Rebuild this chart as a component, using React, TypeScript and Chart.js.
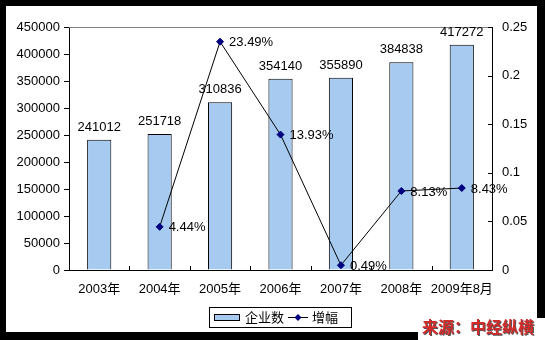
import React, { useEffect, useRef } from "react";
import { Chart, registerables } from "chart.js";

Chart.register(...registerables);

const categories = ["2003年", "2004年", "2005年", "2006年", "2007年", "2008年", "2009年8月"];
const enterpriseCounts = [241012, 251718, 310836, 354140, 355890, 384838, 417272];
const growthRates: (number | null)[] = [null, 0.0444, 0.2349, 0.1393, 0.0049, 0.0813, 0.0843];
const growthLabels: (string | null)[] = [null, "4.44%", "23.49%", "13.93%", "0.49%", "8.13%", "8.43%"];
const legendLabels = ["企业数", "增幅"];
const sourceText = "来源：中经纵横";

const FONT = '"Liberation Sans", Arial, "Noto Sans CJK SC", sans-serif';
const BAR_FILL = "#a6caf0";
const MARKER = "#000080";

const framePlugin = {
  id: "frame",
  beforeDraw(chart: any) {
    const { ctx, width, height } = chart;
    ctx.save();
    ctx.fillStyle = "#000";
    ctx.fillRect(0, 0, width, height);
    ctx.fillStyle = "#fff";
    ctx.fillRect(6, 6, 531, 326);
    ctx.fillRect(418, 318, width - 418, height - 318);
    ctx.restore();
  },
};

const decorPlugin = {
  id: "decor",
  afterDatasetsDraw(chart: any) {
    const { ctx, chartArea } = chart;
    const xs = chart.scales.x;
    const y1 = chart.scales.y1;
    ctx.save();
    // top border (gray)
    ctx.strokeStyle = "#808080";
    ctx.lineWidth = 1;
    ctx.beginPath();
    ctx.moveTo(chartArea.left, Math.round(chartArea.top) + 0.5);
    ctx.lineTo(chartArea.right, Math.round(chartArea.top) + 0.5);
    ctx.stroke();
    // inward ticks on right axis
    ctx.strokeStyle = "#000";
    ctx.beginPath();
    y1.ticks.forEach((t: any) => {
      const y = Math.round(y1.getPixelForValue(t.value)) + 0.5;
      ctx.moveTo(chartArea.right - 4, y);
      ctx.lineTo(chartArea.right, y);
    });
    // inward ticks on x axis between categories
    for (let i = 0; i < categories.length - 1; i++) {
      const x = Math.round((xs.getPixelForTick(i) + xs.getPixelForTick(i + 1)) / 2) + 0.5;
      ctx.moveTo(x, chartArea.bottom - 4);
      ctx.lineTo(x, chartArea.bottom);
    }
    ctx.stroke();

    // data labels
    ctx.fillStyle = "#000";
    ctx.font = "13px " + FONT;
    const barMeta = chart.getDatasetMeta(1);
    barMeta.data.forEach((el: any, i: number) => {
      ctx.textAlign = "center";
      ctx.textBaseline = "alphabetic";
      ctx.fillText(String(enterpriseCounts[i]), el.x, el.y - 9);
    });
    const lineMeta = chart.getDatasetMeta(0);
    lineMeta.data.forEach((el: any, i: number) => {
      const lbl = growthLabels[i];
      if (!lbl || el.skip) return;
      ctx.textAlign = "left";
      ctx.textBaseline = "middle";
      ctx.fillText(lbl, el.x + 9, el.y + 1);
    });
    ctx.restore();
  },
  afterDraw(chart: any) {
    const { ctx } = chart;
    ctx.save();
    // legend
    ctx.strokeStyle = "#000";
    ctx.lineWidth = 1;
    ctx.strokeRect(209.5, 307.5, 142, 20);
    ctx.fillStyle = BAR_FILL;
    ctx.fillRect(214.5, 314.5, 25, 6);
    ctx.strokeRect(214.5, 314.5, 25, 6);
    ctx.fillStyle = "#000";
    ctx.font = "13px " + FONT;
    ctx.textAlign = "left";
    ctx.textBaseline = "middle";
    ctx.fillText(legendLabels[0], 245, 318);
    ctx.beginPath();
    ctx.moveTo(288, 317.5);
    ctx.lineTo(308, 317.5);
    ctx.stroke();
    ctx.fillStyle = MARKER;
    ctx.beginPath();
    ctx.moveTo(298, 314);
    ctx.lineTo(301.5, 317.5);
    ctx.lineTo(298, 321);
    ctx.lineTo(294.5, 317.5);
    ctx.closePath();
    ctx.fill();
    ctx.fillStyle = "#000";
    ctx.fillText(legendLabels[1], 312, 318);
    // source text
    ctx.font = 'bold 16px "Noto Sans CJK SC", sans-serif';
    ctx.textAlign = "left";
    ctx.textBaseline = "alphabetic";
    ctx.fillStyle = "#555";
    ctx.fillText(sourceText, 423, 334);
    ctx.fillStyle = "#d42a2a";
    ctx.fillText(sourceText, 422, 333);
    ctx.restore();
  },
};

export default function App() {
  const ref = useRef<HTMLCanvasElement | null>(null);
  useEffect(() => {
    if (!ref.current) return;
    const chart = new Chart(ref.current, {
      type: "bar",
      data: {
        labels: categories,
        datasets: [
          {
            type: "line",
            label: legendLabels[1],
            data: growthRates as any,
            yAxisID: "y1",
            borderColor: "#000",
            borderWidth: 1,
            pointStyle: "rectRot",
            pointRadius: 3.5,
            pointBackgroundColor: MARKER,
            pointBorderColor: MARKER,
            pointBorderWidth: 1,
            tension: 0,
            order: 0,
          } as any,
          {
            type: "bar",
            label: legendLabels[0],
            data: enterpriseCounts,
            yAxisID: "y",
            backgroundColor: BAR_FILL,
            borderColor: "#000",
            borderWidth: 1,
            categoryPercentage: 1,
            barPercentage: 0.4,
            order: 1,
          } as any,
        ],
      },
      options: {
        animation: false,
        responsive: false,
        maintainAspectRatio: false,
        layout: { padding: { left: 10, right: 13, top: 27, bottom: 40 } },
        plugins: { legend: { display: false }, tooltip: { enabled: false } },
        scales: {
          x: {
            offset: true,
            grid: { display: false },
            border: { display: true, color: "#000", width: 1 },
            ticks: { color: "#000", font: { size: 13, family: FONT }, padding: 4, maxRotation: 0, autoSkip: false },
            afterFit: (s: any) => { s.height = 30; },
          },
          y: {
            position: "left",
            min: 0,
            max: 450000,
            grid: { drawOnChartArea: false, drawTicks: true, tickLength: 5, color: "#000" },
            border: { display: true, color: "#000", width: 1 },
            ticks: { stepSize: 50000, color: "#000", font: { size: 13, family: FONT }, padding: 4, callback: (v: any) => String(v) },
            afterFit: (s: any) => { s.width = 59; },
          },
          y1: {
            position: "right",
            min: 0,
            max: 0.25,
            grid: { display: false },
            border: { display: true, color: "#000", width: 1 },
            ticks: { stepSize: 0.05, color: "#000", font: { size: 13, family: FONT }, padding: 2, callback: (v: any) => String(Number(Number(v).toFixed(2))) },
            afterFit: (s: any) => { s.width = 40; },
          },
        },
      },
      plugins: [framePlugin, decorPlugin],
    });
    return () => chart.destroy();
  }, []);
  return (
    <div style={{ position: "fixed", left: 0, top: 0, width: 545, height: 340 }}>
      <canvas ref={ref} width={545} height={340} style={{ width: 545, height: 340, display: "block" }} />
    </div>
  );
}
